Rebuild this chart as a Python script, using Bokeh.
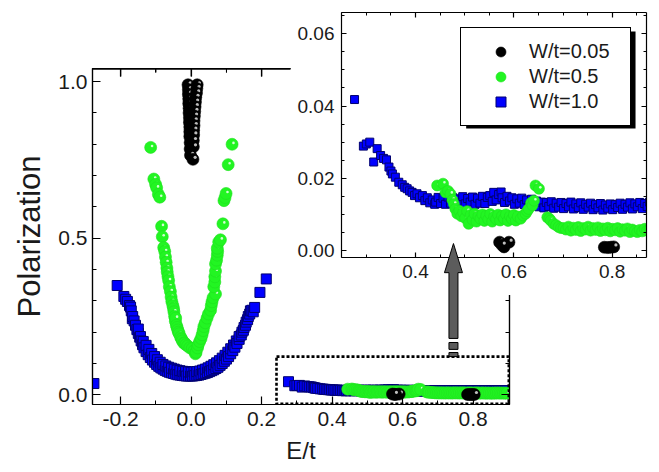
import numpy as np
from bokeh.plotting import figure
from bokeh.models import (Range1d, LinearAxis, SingleIntervalTicker, NumeralTickFormatter,
                          CustomJSTickFormatter, BoxAnnotation, PolyAnnotation, Legend,
                          LegendItem)
from bokeh.embed import file_html
from bokeh.resources import INLINE

FONT = "Liberation Sans"
TXT = "#1a1a1a"

# ---------------- data ----------------
# W/t = 0.05 (black spheres): narrow peak at E=0 and two tiny clusters
W005_PEAK_E = [-0.009, 0.017, -0.008, 0.016, -0.008, 0.015, -0.007, 0.013, -0.007, 0.012,
               -0.006, 0.011, -0.006, 0.010, -0.005, 0.009, -0.005, 0.008, -0.004, 0.008,
               -0.004, 0.007, -0.004, 0.007, -0.003, 0.006, -0.003, 0.006, -0.002, 0.005]
W005_PEAK_P = [0.990, 0.990, 0.975, 0.978, 0.960, 0.964, 0.945, 0.950, 0.930, 0.935,
               0.915, 0.920, 0.900, 0.905, 0.885, 0.890, 0.870, 0.875, 0.855, 0.860,
               0.840, 0.845, 0.825, 0.830, 0.805, 0.812, 0.785, 0.792, 0.765, 0.752]
W005_TAIL_E = [0.571, 0.590, 0.580, 0.576, 0.784, 0.791, 0.797, 0.803]
W005_TAIL_P = [0.0023, 0.0023, 0.0010, 0.0015, 0.0009, 0.0008, 0.0009, 0.0010]

# W/t = 0.5 (green spheres): V shape around E=0, then a low tail
W05_V_E = [-0.115, -0.106, -0.101, -0.098, -0.093, -0.089, -0.084, -0.082, -0.078, -0.075,
           -0.073, -0.071, -0.069, -0.068, -0.066, -0.064, -0.062, -0.059, -0.057, -0.055,
           -0.052, -0.050, -0.049, -0.047, -0.045, -0.044, -0.042, -0.040, -0.038, -0.036,
           -0.034, -0.030, -0.027, -0.025, -0.021, -0.018, -0.015, -0.010, -0.004, 0.003,
           0.008, 0.012, 0.014, 0.018, 0.020, 0.024, 0.028, 0.031, 0.034, 0.036,
           0.040, 0.045, 0.049, 0.055, 0.057, 0.059, 0.062, 0.069, 0.064, 0.067,
           0.067, 0.069, 0.069, 0.072, 0.074, 0.075, 0.074, 0.078, 0.083, 0.090,
           0.093, 0.096, 0.099, 0.105, 0.116]
W05_V_P = [0.790, 0.689, 0.672, 0.661, 0.640, 0.631, 0.538, 0.505, 0.470, 0.458,
           0.440, 0.423, 0.405, 0.392, 0.378, 0.365, 0.345, 0.330, 0.312, 0.298,
           0.285, 0.275, 0.265, 0.250, 0.235, 0.245, 0.222, 0.215, 0.207, 0.200,
           0.195, 0.184, 0.178, 0.172, 0.165, 0.165, 0.160, 0.156, 0.150, 0.148,
           0.140, 0.131, 0.136, 0.150, 0.160, 0.170, 0.180, 0.192, 0.205, 0.218,
           0.230, 0.245, 0.258, 0.270, 0.285, 0.297, 0.310, 0.322, 0.345, 0.360,
           0.377, 0.395, 0.418, 0.430, 0.446, 0.458, 0.468, 0.488, 0.495, 0.546,
           0.620, 0.630, 0.643, 0.735, 0.800]
W05_TAIL_E = [0.444, 0.456, 0.461, 0.466, 0.471, 0.475, 0.478, 0.481, 0.485, 0.489,
              0.493, 0.497, 0.501, 0.505, 0.508, 0.512, 0.516, 0.520, 0.524, 0.528,
              0.532, 0.536, 0.540, 0.544, 0.548, 0.552, 0.556, 0.560, 0.564, 0.568,
              0.572, 0.576, 0.580, 0.584, 0.588, 0.592, 0.596, 0.600, 0.604, 0.608,
              0.614, 0.619, 0.624, 0.627, 0.630, 0.635, 0.638, 0.641, 0.644, 0.651,
              0.668, 0.672, 0.675, 0.681, 0.686, 0.691, 0.696, 0.701, 0.706, 0.711,
              0.716, 0.721, 0.726, 0.731, 0.736, 0.741, 0.746, 0.751, 0.756, 0.761,
              0.766, 0.771, 0.776, 0.781, 0.786, 0.791, 0.796, 0.801, 0.806, 0.811,
              0.816, 0.821, 0.826, 0.831, 0.836, 0.841, 0.846, 0.851, 0.856, 0.861,
              0.866, 0.871, 0.876, 0.881, 0.886, 0.891, 0.896]
W05_TAIL_P = [0.0180, 0.0185, 0.0161, 0.0165, 0.0157, 0.0140, 0.0129, 0.0115, 0.0102, 0.0110,
              0.0095, 0.0105, 0.0090, 0.0109, 0.0074, 0.0098, 0.0085, 0.0102, 0.0080, 0.0095,
              0.0088, 0.0100, 0.0082, 0.0096, 0.0086, 0.0101, 0.0080, 0.0094, 0.0087, 0.0099,
              0.0083, 0.0096, 0.0088, 0.0100, 0.0082, 0.0095, 0.0087, 0.0098, 0.0083, 0.0094,
              0.0088, 0.0097, 0.0102, 0.0109, 0.0115, 0.0132, 0.0125, 0.0138, 0.0180, 0.0171,
              0.0092, 0.0088, 0.0083, 0.0074, 0.0070, 0.0065, 0.0062, 0.0062, 0.0058, 0.0066,
              0.0055, 0.0063, 0.0057, 0.0065, 0.0054, 0.0062, 0.0058, 0.0066, 0.0055, 0.0062,
              0.0057, 0.0064, 0.0054, 0.0061, 0.0056, 0.0063, 0.0053, 0.0060, 0.0056, 0.0062,
              0.0052, 0.0059, 0.0055, 0.0061, 0.0051, 0.0058, 0.0054, 0.0051, 0.0057, 0.0053,
              0.0060, 0.0055, 0.0058, 0.0054, 0.0057, 0.0053, 0.0056]

# W/t = 1.0 (blue squares): wide V shape, then a slowly decaying tail
W10_V_E = [-0.276, -0.210, -0.191, -0.186, -0.181, -0.175, -0.172, -0.170, -0.167, -0.166,
           -0.162, -0.158, -0.154, -0.150, -0.150, -0.146, -0.144, -0.142, -0.138, -0.136,
           -0.134, -0.128, -0.128, -0.122, -0.120, -0.116, -0.112, -0.110, -0.104, -0.104,
           -0.098, -0.096, -0.092, -0.088, -0.086, -0.080, -0.080, -0.074, -0.072, -0.068,
           -0.064, -0.062, -0.056, -0.056, -0.050, -0.048, -0.044, -0.040, -0.038, -0.032,
           -0.032, -0.026, -0.024, -0.020, -0.016, -0.014, -0.008, -0.008, -0.002, 0.000,
           0.004, 0.008, 0.010, 0.016, 0.016, 0.022, 0.024, 0.028, 0.032, 0.034,
           0.040, 0.040, 0.046, 0.048, 0.052, 0.056, 0.058, 0.064, 0.064, 0.070,
           0.072, 0.076, 0.080, 0.082, 0.088, 0.088, 0.094, 0.096, 0.100, 0.104,
           0.106, 0.112, 0.112, 0.118, 0.120, 0.124, 0.128, 0.130, 0.136, 0.136,
           0.142, 0.144, 0.148, 0.150, 0.154, 0.156, 0.160, 0.162, 0.166, 0.168,
           0.172, 0.176, 0.180, 0.195, 0.213]
W10_V_P = [0.036, 0.349, 0.314, 0.305, 0.298, 0.285, 0.280, 0.268, 0.243, 0.250,
           0.236, 0.222, 0.208, 0.196, 0.210, 0.184, 0.186, 0.172, 0.160, 0.170,
           0.150, 0.138, 0.158, 0.128, 0.145, 0.119, 0.132, 0.111, 0.104, 0.122,
           0.097, 0.112, 0.091, 0.104, 0.086, 0.082, 0.097, 0.078, 0.092, 0.075,
           0.088, 0.072, 0.070, 0.085, 0.068, 0.082, 0.066, 0.079, 0.064, 0.063,
           0.077, 0.062, 0.075, 0.061, 0.074, 0.060, 0.060, 0.073, 0.060, 0.072,
           0.060, 0.073, 0.061, 0.062, 0.074, 0.063, 0.076, 0.065, 0.079, 0.067,
           0.069, 0.082, 0.071, 0.086, 0.074, 0.091, 0.077, 0.080, 0.096, 0.084,
           0.102, 0.088, 0.109, 0.094, 0.100, 0.117, 0.107, 0.126, 0.114, 0.136,
           0.122, 0.131, 0.147, 0.141, 0.159, 0.152, 0.172, 0.164, 0.177, 0.186,
           0.191, 0.200, 0.206, 0.215, 0.222, 0.232, 0.240, 0.250, 0.258, 0.268,
           0.270, 0.265, 0.279, 0.327, 0.370]
W10_TAIL_E = [0.276, 0.294, 0.300, 0.307, 0.315, 0.322, 0.329, 0.335, 0.341, 0.346,
              0.350, 0.353, 0.359, 0.366, 0.373, 0.378, 0.383, 0.388, 0.393, 0.398,
              0.403, 0.408, 0.414, 0.419, 0.424, 0.429, 0.434, 0.439, 0.441, 0.446,
              0.451, 0.456, 0.461, 0.466, 0.471, 0.476, 0.481, 0.486, 0.491, 0.496,
              0.501, 0.506, 0.511, 0.516, 0.521, 0.526, 0.531, 0.536, 0.541, 0.546,
              0.551, 0.556, 0.559, 0.564, 0.569, 0.574, 0.576, 0.581, 0.586, 0.591,
              0.596, 0.601, 0.606, 0.611, 0.616, 0.621, 0.626, 0.631, 0.636, 0.641,
              0.646, 0.651, 0.656, 0.661, 0.666, 0.671, 0.676, 0.681, 0.686, 0.691,
              0.696, 0.701, 0.706, 0.711, 0.716, 0.721, 0.726, 0.731, 0.736, 0.741,
              0.746, 0.751, 0.756, 0.761, 0.766, 0.771, 0.776, 0.781, 0.786, 0.791,
              0.796, 0.801, 0.806, 0.811, 0.816, 0.821, 0.826, 0.831, 0.836, 0.841,
              0.846, 0.851, 0.856, 0.861, 0.866, 0.871, 0.876, 0.881, 0.886, 0.891,
              0.896]
W10_TAIL_P = [0.0418, 0.0289, 0.0295, 0.0300, 0.0245, 0.0282, 0.0263, 0.0255, 0.0251, 0.0231,
              0.0220, 0.0212, 0.0203, 0.0189, 0.0182, 0.0175, 0.0171, 0.0165, 0.0161, 0.0152,
              0.0157, 0.0146, 0.0152, 0.0138, 0.0146, 0.0132, 0.0140, 0.0128, 0.0134, 0.0147,
              0.0130, 0.0145, 0.0128, 0.0148, 0.0131, 0.0146, 0.0127, 0.0143, 0.0132, 0.0149,
              0.0129, 0.0144, 0.0134, 0.0148, 0.0128, 0.0145, 0.0131, 0.0150, 0.0130, 0.0147,
              0.0152, 0.0136, 0.0161, 0.0140, 0.0155, 0.0162, 0.0146, 0.0133, 0.0150, 0.0137,
              0.0146, 0.0128, 0.0143, 0.0131, 0.0145, 0.0127, 0.0140, 0.0125, 0.0142, 0.0129,
              0.0137, 0.0121, 0.0134, 0.0118, 0.0133, 0.0122, 0.0135, 0.0117, 0.0131, 0.0120,
              0.0133, 0.0116, 0.0130, 0.0121, 0.0134, 0.0115, 0.0129, 0.0119, 0.0132, 0.0114,
              0.0128, 0.0120, 0.0131, 0.0113, 0.0127, 0.0118, 0.0130, 0.0112, 0.0126, 0.0117,
              0.0129, 0.0113, 0.0127, 0.0119, 0.0131, 0.0114, 0.0128, 0.0120, 0.0132, 0.0115,
              0.0129, 0.0121, 0.0133, 0.0116, 0.0130, 0.0122, 0.0134, 0.0117, 0.0131, 0.0123,
              0.0128]

SERIES_LABELS = ["W/t=0.05", "W/t=0.5", "W/t=1.0"]

E005 = W005_PEAK_E + W005_TAIL_E
P005 = W005_PEAK_P + W005_TAIL_P
E05 = W05_V_E + W05_TAIL_E
P05 = W05_V_P + W05_TAIL_P
E10 = W10_V_E + W10_TAIL_E
P10 = W10_V_P + W10_TAIL_P

# ---------------- layout constants ----------------
MAIN_X = (-0.280, 0.903)
MAIN_Y = (-0.031, 1.042)
INSET_X = (0.2495, 0.8697)
INSET_Y = (-0.00194, 0.0659)

MAIN_FRAME = (417, 336)
INSET_FRAME = (305, 245)
INSET_LEFT_PX = 290          # where the inset panel starts (page pixels)
MAIN_LEFT_PX = 92            # main frame left edge (page pixels)


def place(left, top):
    return {"position": "absolute", "left": f"{left}px", "top": f"{top}px"}


def blank():
    return CustomJSTickFormatter(code="return ''")


def style_axis(ax, size, major_in, minor_in, standoff=6):
    ax.axis_line_color = "black"
    ax.axis_line_width = 1.2
    ax.major_tick_in = major_in
    ax.major_tick_out = 0
    ax.minor_tick_in = minor_in
    ax.minor_tick_out = 0
    ax.major_tick_line_color = "black"
    ax.minor_tick_line_color = "black"
    ax.major_tick_line_width = 1.2
    ax.minor_tick_line_width = 1.0
    ax.major_label_text_font = FONT
    ax.major_label_text_font_size = size
    ax.major_label_text_color = TXT
    ax.major_label_standoff = standoff


def sphere_scatter(fig, E, P, size, fill, line, hl, hl_size, hl_dx, hl_dy, sx, sy, hl_alpha):
    """Shaded spheres: each ball followed by its highlight, interleaved."""
    E = np.asarray(E, float)
    P = np.asarray(P, float)
    n = len(E)
    xs = np.empty(2 * n)
    ys = np.empty(2 * n)
    xs[0::2] = E
    ys[0::2] = P
    xs[1::2] = E + hl_dx / sx
    ys[1::2] = P + hl_dy / sy
    sizes = np.empty(2 * n)
    sizes[0::2] = size
    sizes[1::2] = hl_size
    fills = [fill, hl] * n
    falpha = [1.0, hl_alpha] * n
    lalpha = [1.0, 0.0] * n
    return fig.scatter(x=xs, y=ys, size=sizes, marker="circle", fill_color=fills,
                       fill_alpha=falpha, line_color=line, line_alpha=lalpha, line_width=0.6)


def draw_data(fig, sx, sy, sq, ball, black_ball):
    r10 = fig.scatter(E10, P10, marker="square", size=sq, fill_color="#0000ff",
                      line_color="#000070", line_width=1.0)
    r05 = sphere_scatter(fig, E05, P05, ball, "#22f522", "#1fe01f", "#ffffff",
                         2.6, 1.4, 1.4, sx, sy, 0.8)
    r005 = sphere_scatter(fig, E005, P005, black_ball, "#000000", "#000000", "#c8c8c8",
                          3.2, 2.2, 2.0, sx, sy, 0.95)
    return r005, r05, r10


# ---------------- main plot ----------------
p = figure(width=659, height=472, x_range=Range1d(*MAIN_X), y_range=Range1d(*MAIN_Y),
           output_backend="svg", toolbar_location=None, styles=place(0, 0),
           min_border_left=92, min_border_right=150, min_border_top=68, min_border_bottom=68,
           x_axis_label="E/t", y_axis_label="Polarization")
p.grid.visible = False
p.outline_line_color = "black"
p.outline_line_width = 1.2
p.outline_line_alpha = 1.0
p.background_fill_color = "white"
p.border_fill_color = "white"

top_ax = LinearAxis(ticker=SingleIntervalTicker(interval=0.2, num_minor_ticks=2), formatter=blank())
style_axis(top_ax, "10px", 8, 4, standoff=0)
p.add_layout(top_ax, "above")
right_ax = LinearAxis(ticker=SingleIntervalTicker(interval=0.5, num_minor_ticks=5), formatter=blank())
style_axis(right_ax, "10px", 8, 4, standoff=0)
p.add_layout(right_ax, "right")

xa = p.below[0]
xa.ticker = SingleIntervalTicker(interval=0.2, num_minor_ticks=2)
xa.formatter = NumeralTickFormatter(format="0.0")
style_axis(xa, "21px", 8, 4, standoff=7)
ya = p.left[0]
ya.ticker = SingleIntervalTicker(interval=0.5, num_minor_ticks=5)
ya.formatter = NumeralTickFormatter(format="0.0")
style_axis(ya, "21px", 8, 4, standoff=5)
for ax, sz in ((xa, "24px"), (ya, "31px")):
    ax.axis_label_text_font = FONT
    ax.axis_label_text_font_size = sz
    ax.axis_label_text_font_style = "normal"
    ax.axis_label_text_color = TXT
xa.axis_label_standoff = 8
ya.axis_label_standoff = 8

msx = MAIN_FRAME[0] / (MAIN_X[1] - MAIN_X[0])
msy = MAIN_FRAME[1] / (MAIN_Y[1] - MAIN_Y[0])
draw_data(p, msx, msy, 10, 12, 12)

# dotted frame marking the region enlarged in the inset
ZOOM_BOX = dict(left=0.242, right=0.901, top=0.122, bottom=-0.029)
p.add_layout(BoxAnnotation(**ZOOM_BOX, fill_alpha=0, fill_color=None, line_color="black",
                           line_alpha=1.0, line_width=2.6, line_dash="3 2"))

# ---------------- inset ----------------
inset = figure(width=369, height=295, x_range=Range1d(*INSET_X), y_range=Range1d(*INSET_Y),
               output_backend="svg", toolbar_location=None, styles=place(INSET_LEFT_PX, 0),
               min_border_left=51, min_border_right=13, min_border_top=12, min_border_bottom=38)
inset.grid.visible = False
inset.outline_line_color = None
inset.background_fill_color = "white"
inset.border_fill_color = "white"

ixa = inset.xaxis[0]
ixa.ticker = SingleIntervalTicker(interval=0.2, num_minor_ticks=4)
ixa.formatter = NumeralTickFormatter(format="0.0")
style_axis(ixa, "19px", 5, 3, standoff=7)
iya = inset.yaxis[0]
iya.ticker = SingleIntervalTicker(interval=0.02, num_minor_ticks=4)
iya.formatter = NumeralTickFormatter(format="0.00")
style_axis(iya, "19px", 5, 3, standoff=7)
itop = LinearAxis(ticker=SingleIntervalTicker(interval=0.2, num_minor_ticks=4), formatter=blank())
style_axis(itop, "1px", 5, 3, standoff=0)
inset.add_layout(itop, "above")
iright = LinearAxis(ticker=SingleIntervalTicker(interval=0.02, num_minor_ticks=4), formatter=blank())
style_axis(iright, "1px", 5, 3, standoff=0)
inset.add_layout(iright, "right")

isx = INSET_FRAME[0] / (INSET_X[1] - INSET_X[0])
isy = INSET_FRAME[1] / (INSET_Y[1] - INSET_Y[0])
r005, r05, r10 = draw_data(inset, isx, isy, 8, 11, 12)

# legend shadow (offset box) then the legend itself
inset.add_layout(BoxAnnotation(left=0.5030, right=0.8474, top=0.06064, bottom=0.03378,
                               fill_color="black", fill_alpha=1, line_color=None, line_alpha=0))
legend = Legend(items=[LegendItem(label=SERIES_LABELS[0], renderers=[r005], index=0),
                       LegendItem(label=SERIES_LABELS[1], renderers=[r05], index=0),
                       LegendItem(label=SERIES_LABELS[2], renderers=[r10], index=0)],
                location="top_right", margin=15, padding=11, spacing=0,
                glyph_width=57, glyph_height=25, label_height=25, label_width=90,
                label_standoff=0, border_line_color="black", border_line_width=1.5,
                border_line_alpha=1.0,
                background_fill_color="white", background_fill_alpha=1.0,
                label_text_font=FONT, label_text_font_size="20px", label_text_color=TXT)
inset.add_layout(legend, "center")

# ---------------- overlay: top frame edge of the main plot and the arrow ----------------
ov = figure(width=659, height=472, x_range=p.x_range, y_range=p.y_range,
            output_backend="svg", toolbar_location=None, styles=place(0, 0),
            x_axis_location=None, y_axis_location=None,
            min_border_left=92, min_border_right=150, min_border_top=68, min_border_bottom=68)
ov.grid.visible = False
ov.outline_line_color = None
ov.background_fill_color = None
ov.border_fill_color = None

# visible part of the main plot's top edge (left of the inset panel), with inward ticks
top_end = MAIN_X[0] + (INSET_LEFT_PX - MAIN_LEFT_PX) / msx
y_edge = MAIN_Y[1] - 0.6 / msy
ov.segment(x0=[MAIN_X[0]], x1=[top_end], y0=[y_edge], y1=[y_edge],
           line_color="black", line_width=1.2)
all_ticks = np.round(np.arange(-0.2, top_end, 0.1), 3)
major = [t for t in all_ticks if abs(round(t / 0.2) * 0.2 - t) < 1e-6]
minor = [t for t in all_ticks if t not in major]
ov.segment(x0=major, x1=major, y0=[MAIN_Y[1]] * len(major),
           y1=[MAIN_Y[1] - 8 / msy] * len(major), line_color="black", line_width=1.2)
ov.segment(x0=minor, x1=minor, y0=[MAIN_Y[1]] * len(minor),
           y1=[MAIN_Y[1] - 4 / msy] * len(minor), line_color="black", line_width=1.0)

ARROW_E = 0.744
ARROW_TIP, ARROW_BASE, ARROW_SHAFT_END = 0.483, 0.390, 0.180
hw_shaft = 4.5 / msx
hw_head = 9.0 / msx
ov.add_layout(PolyAnnotation(
    xs=[ARROW_E - hw_shaft, ARROW_E - hw_shaft, ARROW_E - hw_head, ARROW_E,
        ARROW_E + hw_head, ARROW_E + hw_shaft, ARROW_E + hw_shaft],
    ys=[ARROW_SHAFT_END, ARROW_BASE, ARROW_BASE, ARROW_TIP, ARROW_BASE, ARROW_BASE,
        ARROW_SHAFT_END],
    fill_color="#5c5c5c", fill_alpha=1, line_color="black", line_alpha=1, line_width=1))
for top, bottom in ((0.167, 0.145), (0.135, 0.122)):
    ov.add_layout(BoxAnnotation(left=ARROW_E - hw_shaft, right=ARROW_E + hw_shaft,
                                top=top, bottom=bottom, fill_color="#5c5c5c", fill_alpha=1,
                                line_color="black", line_alpha=1, line_width=1))

open("out.html", "w").write(file_html([p, inset, ov], INLINE))
